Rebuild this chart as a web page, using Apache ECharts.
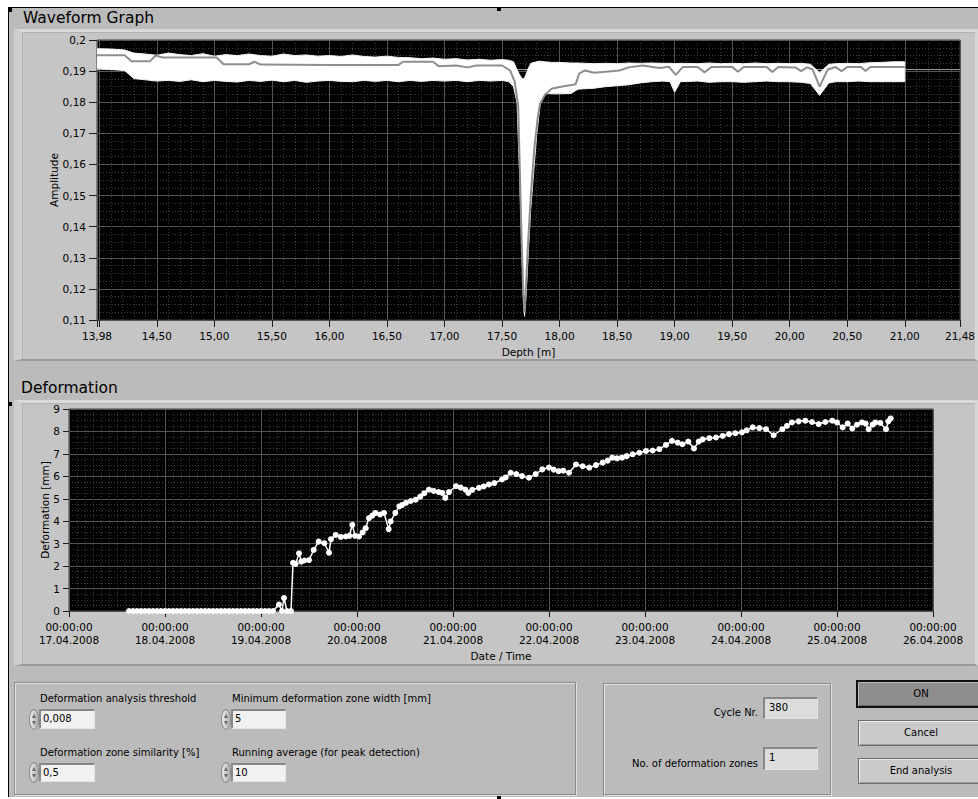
<!DOCTYPE html>
<html>
<head>
<meta charset="utf-8">
<title>Waveform Graph / Deformation</title>
<script src="https://cdn.jsdelivr.net/npm/echarts@6.0.0/dist/echarts.min.js"></script>
<style>
  html, body { margin: 0; padding: 0; background: #fff; }
  body { width: 978px; height: 799px; overflow: hidden; position: relative;
         font-family: "DejaVu Sans", Verdana, sans-serif; color: #000; }
  .abs { position: absolute; }
  #panel { left: 8px; top: 7px; width: 970px; height: 790px; box-sizing: border-box;
           background: #bbbbbb; border-left: 1px solid #000; border-top: 1px solid #000; }
  .handle { width: 4px; height: 4px; background: #000; }
  .frame { left: 14px; width: 964px; box-sizing: border-box; background: #c5c5c5;
           border-top: 3px solid #dadada; border-left: 8px solid #cdcdcd;
           border-right: 3px solid #d6d6d6; border-bottom: 2px solid #9a9a9a;
           box-shadow: inset 1px 1px 0 #b2b2b2; }
  .title { font-size: 15.5px; line-height: 16px; white-space: nowrap; }
  .group { box-sizing: border-box; border: 1px solid #8a8a8a;
           box-shadow: inset 1px 1px 0 #e2e2e2, 1px 1px 0 #e2e2e2; }
  .lbl { font-size: 10px; line-height: 12px; white-space: nowrap; }
  .field { box-sizing: border-box; background: #f1f1f1; font-size: 10px; line-height: 16px;
           padding-left: 2px; border-top: 2px solid #878787; border-left: 2px solid #878787;
           border-right: 1px solid #e4e4e4; border-bottom: 1px solid #e4e4e4; }
  .ind { background: #dcdcdc; line-height: 18px; padding-left: 4px; }
  .spin { width: 10px; height: 21px; box-sizing: border-box; border: 1px solid #8a8a8a;
          border-radius: 5px / 10px; background: linear-gradient(90deg, #ececec, #b0b0b0); }
  .spin::before { content: ""; position: absolute; left: 1.5px; top: 4px;
          border-left: 2.5px solid transparent; border-right: 2.5px solid transparent;
          border-bottom: 4px solid #6a6a6a; }
  .spin::after { content: ""; position: absolute; left: 1.5px; top: 11px;
          border-left: 2.5px solid transparent; border-right: 2.5px solid transparent;
          border-top: 4px solid #6a6a6a; }
  .btn { box-sizing: border-box; font-size: 10px; text-align: center; }
  .btn-on { background: #8e8e8e; border: 2px solid #111;
            box-shadow: inset 1px 1px 0 #b8b8b8, inset -1px -1px 0 #6a6a6a; line-height: 23px; }
  .btn-std { background: #cacaca; border: 1px solid #6c6c6c;
             box-shadow: inset 1px 1px 0 #ededed, inset -1px -1px 0 #9c9c9c; line-height: 23px; }
  #chart { left: 0; top: 0; width: 978px; height: 799px; }
</style>
</head>
<body>
<div id="panel" class="abs"></div>
<div class="abs handle" style="left:8px;top:8px"></div>
<div class="abs handle" style="left:497px;top:7px"></div>
<div class="abs handle" style="left:8px;top:402px"></div>
<div class="abs handle" style="left:497px;top:795px"></div>

<div class="abs title" style="left:23px;top:10px">Waveform Graph</div>
<div class="abs frame" style="top:29px;height:332px"></div>

<div class="abs title" style="left:21px;top:380px">Deformation</div>
<div class="abs frame" style="top:400px;height:266px"></div>

<!-- analysis settings -->
<div class="abs group" style="left:14px;top:682px;width:562px;height:113px"></div>
<div class="abs lbl" style="left:40px;top:693px">Deformation analysis threshold</div>
<div class="abs spin" style="left:29px;top:709px"></div>
<div class="abs field" style="left:39px;top:709px;width:56px;height:20px">0,008</div>
<div class="abs lbl" style="left:232px;top:693px">Minimum deformation zone width [mm]</div>
<div class="abs spin" style="left:221px;top:709px"></div>
<div class="abs field" style="left:231px;top:709px;width:55px;height:20px">5</div>
<div class="abs lbl" style="left:40px;top:747px">Deformation zone similarity [%]</div>
<div class="abs spin" style="left:29px;top:762px"></div>
<div class="abs field" style="left:39px;top:763px;width:56px;height:19px">0,5</div>
<div class="abs lbl" style="left:232px;top:747px">Running average (for peak detection)</div>
<div class="abs spin" style="left:221px;top:762px"></div>
<div class="abs field" style="left:231px;top:763px;width:55px;height:19px">10</div>

<!-- status indicators -->
<div class="abs group" style="left:603px;top:683px;width:228px;height:112px"></div>
<div class="abs lbl" style="left:600px;top:707px;width:158px;text-align:right">Cycle Nr.</div>
<div class="abs field ind" style="left:763px;top:697px;width:55px;height:22px">380</div>
<div class="abs lbl" style="left:600px;top:758px;width:158px;text-align:right">No. of deformation zones</div>
<div class="abs field ind" style="left:763px;top:747px;width:55px;height:23px">1</div>

<!-- buttons -->
<div class="abs btn btn-on" style="left:856px;top:680px;width:130px;height:28px">ON</div>
<div class="abs btn btn-std" style="left:858px;top:720px;width:126px;height:26px">Cancel</div>
<div class="abs btn btn-std" style="left:858px;top:758px;width:126px;height:26px">End analysis</div>

<div id="chart" class="abs"></div>

<script>
// ---------- Waveform Graph: depth axis and amplitude axis ----------
const depthMin = 13.98;
const depthMax = 21.48;
const depthTicks  = [13.98, 14.00, 14.50, 15.00, 15.50, 16.00, 16.50, 17.00, 17.50, 18.00, 18.50, 19.00, 19.50, 20.00, 20.50, 21.00, 21.48];
const depthLabels = [13.98, 14.50, 15.00, 15.50, 16.00, 16.50, 17.00, 17.50, 18.00, 18.50, 19.00, 19.50, 20.00, 20.50, 21.00, 21.48];
const ampMin = 0.11;
const ampMax = 0.2;
const ampTicks = [0.11, 0.12, 0.13, 0.14, 0.15, 0.16, 0.17, 0.18, 0.19, 0.2];

// envelope of all recorded traces (upper / lower amplitude per depth)
const envDepth = [13.98, 14.10, 14.22, 14.30, 14.40, 14.50, 14.60, 14.70, 14.80, 14.90,
                  15.00, 15.10, 15.20, 15.30, 15.40, 15.50, 15.60, 15.70, 15.80, 15.90,
                  16.00, 16.10, 16.20, 16.30, 16.40, 16.50, 16.60, 16.70, 16.80, 16.90,
                  17.00, 17.10, 17.20, 17.30, 17.40, 17.50, 17.56, 17.60, 17.63, 17.65,
                  17.67, 17.685, 17.695, 17.71, 17.73, 17.75, 17.80, 17.83, 17.87, 17.93,
                  18.00, 18.10, 18.16, 18.30, 18.40, 18.50, 18.60, 18.70, 18.80, 18.90,
                  18.96, 19.00, 19.05, 19.20, 19.30, 19.40, 19.50, 19.60, 19.70, 19.80,
                  19.90, 20.00, 20.10, 20.18, 20.26, 20.34, 20.40, 20.50, 20.60, 20.70,
                  20.80, 20.90, 21.00];
const envUpper = [0.1972, 0.1971, 0.1968, 0.1958, 0.1955, 0.1951, 0.1958, 0.1953, 0.1950, 0.1956,
                  0.1948, 0.1953, 0.1950, 0.1955, 0.1950, 0.1948, 0.1955, 0.1950, 0.1952, 0.1948,
                  0.1950, 0.1947, 0.1952, 0.1947, 0.1945, 0.1948, 0.1944, 0.1943, 0.1940, 0.1942,
                  0.1938, 0.1940, 0.1936, 0.1938, 0.1935, 0.1937, 0.1935, 0.1930, 0.1905, 0.1890,
                  0.1878, 0.1875, 0.1878, 0.1890, 0.1910, 0.1925, 0.1930, 0.1932, 0.1930, 0.1928,
                  0.1928, 0.1926, 0.1926, 0.1924, 0.1925, 0.1924, 0.1926, 0.1925, 0.1926, 0.1925,
                  0.1925, 0.1924, 0.1925, 0.1924, 0.1926, 0.1924, 0.1925, 0.1924, 0.1926, 0.1924,
                  0.1925, 0.1924, 0.1925, 0.1922, 0.1895, 0.1922, 0.1924, 0.1925, 0.1924, 0.1927,
                  0.1928, 0.1930, 0.1930];
const envLower = [0.1908, 0.1905, 0.1902, 0.1876, 0.1872, 0.1868, 0.1870, 0.1867, 0.1872, 0.1866,
                  0.1870, 0.1867, 0.1865, 0.1870, 0.1867, 0.1871, 0.1866, 0.1870, 0.1864, 0.1868,
                  0.1870, 0.1867, 0.1866, 0.1870, 0.1867, 0.1870, 0.1866, 0.1870, 0.1867, 0.1870,
                  0.1868, 0.1870, 0.1866, 0.1870, 0.1868, 0.1870, 0.1866, 0.1850, 0.1800, 0.1600,
                  0.1360, 0.1180, 0.1112, 0.1186, 0.1330, 0.1460, 0.1690, 0.1790, 0.1830, 0.1827,
                  0.1827, 0.1828, 0.1842, 0.1845, 0.1850, 0.1853, 0.1856, 0.1862, 0.1866, 0.1868,
                  0.1866, 0.1832, 0.1866, 0.1868, 0.1864, 0.1866, 0.1866, 0.1864, 0.1866, 0.1868,
                  0.1866, 0.1866, 0.1864, 0.1860, 0.1822, 0.1862, 0.1866, 0.1866, 0.1868, 0.1866,
                  0.1866, 0.1866, 0.1866];

// current (latest) trace
const curDepth = [13.98, 14.22, 14.28, 14.44, 14.49, 14.55, 15.02, 15.08, 15.30, 15.35,
                  15.40, 16.00, 16.60, 16.64, 16.90, 16.95, 17.10, 17.20, 17.28, 17.50,
                  17.57, 17.61, 17.64, 17.655, 17.67, 17.685, 17.695, 17.705, 17.725, 17.75,
                  17.78, 17.81, 17.83, 17.87, 17.93, 18.00, 18.14, 18.17, 18.22, 18.30,
                  18.40, 18.52, 18.60, 18.72, 18.87, 18.95, 19.01, 19.07, 19.20, 19.26,
                  19.32, 19.50, 19.55, 19.60, 19.80, 19.85, 19.90, 20.05, 20.10, 20.15,
                  20.20, 20.26, 20.33, 20.40, 20.45, 20.50, 20.62, 20.66, 20.70, 21.00];
const curAmp   = [0.1951, 0.1951, 0.1932, 0.1932, 0.1950, 0.1944, 0.1944, 0.1922, 0.1922, 0.1930,
                  0.1921, 0.1920, 0.1920, 0.1930, 0.1930, 0.1916, 0.1918, 0.1912, 0.1918, 0.1918,
                  0.1902, 0.1866, 0.1790, 0.1580, 0.1360, 0.1180, 0.1125, 0.1185, 0.1340, 0.1500,
                  0.1650, 0.1750, 0.1795, 0.1822, 0.1843, 0.1849, 0.1858, 0.1892, 0.1902, 0.1895,
                  0.1898, 0.1902, 0.1912, 0.1918, 0.1910, 0.1914, 0.1888, 0.1913, 0.1913, 0.1896,
                  0.1913, 0.1914, 0.1898, 0.1913, 0.1913, 0.1897, 0.1913, 0.1912, 0.1900, 0.1912,
                  0.1905, 0.1850, 0.1905, 0.1913, 0.1900, 0.1913, 0.1913, 0.1900, 0.1913, 0.1913];

// reference trace (full depth range)
const refDepth = [13.98, 21.48];
const refAmp   = [0.1905, 0.1905];

// ---------- Deformation over time ----------
const dateMin = '2008-04-17 00:00';
const dateMax = '2008-04-26 00:00';
const defMax = 9;
const defTime = [
  '2008-04-17 15:00','2008-04-17 16:00','2008-04-17 17:00','2008-04-17 18:00','2008-04-17 19:00',
  '2008-04-17 20:00','2008-04-17 21:00','2008-04-17 22:00','2008-04-17 23:00',
  '2008-04-18 00:00','2008-04-18 01:00','2008-04-18 02:00','2008-04-18 03:00','2008-04-18 04:00',
  '2008-04-18 05:00','2008-04-18 06:00','2008-04-18 07:00','2008-04-18 08:00','2008-04-18 09:00',
  '2008-04-18 10:00','2008-04-18 11:00','2008-04-18 12:00','2008-04-18 13:00','2008-04-18 14:00',
  '2008-04-18 15:00','2008-04-18 16:00','2008-04-18 17:00','2008-04-18 18:00','2008-04-18 19:00',
  '2008-04-18 20:00','2008-04-18 21:00','2008-04-18 22:00','2008-04-18 23:00',
  '2008-04-19 00:00','2008-04-19 01:00','2008-04-19 02:00','2008-04-19 03:00','2008-04-19 04:30',
  '2008-04-19 05:15','2008-04-19 05:45','2008-04-19 06:30','2008-04-19 07:30','2008-04-19 08:00',
  '2008-04-19 08:40','2008-04-19 09:30','2008-04-19 10:05','2008-04-19 10:50','2008-04-19 12:00',
  '2008-04-19 13:10','2008-04-19 14:25','2008-04-19 15:50','2008-04-19 17:00','2008-04-19 17:30',
  '2008-04-19 18:40','2008-04-19 19:55','2008-04-19 21:10','2008-04-19 22:05','2008-04-19 22:50',
  '2008-04-19 23:30',
  '2008-04-20 00:30','2008-04-20 01:25','2008-04-20 02:10','2008-04-20 03:00','2008-04-20 03:50',
  '2008-04-20 04:35','2008-04-20 05:45','2008-04-20 06:45','2008-04-20 07:55','2008-04-20 08:25',
  '2008-04-20 09:35','2008-04-20 10:35','2008-04-20 11:15','2008-04-20 12:15','2008-04-20 13:25',
  '2008-04-20 14:40','2008-04-20 15:50','2008-04-20 16:50','2008-04-20 18:00','2008-04-20 19:10',
  '2008-04-20 20:25','2008-04-20 21:20','2008-04-20 22:05','2008-04-20 23:00',
  '2008-04-21 00:45','2008-04-21 01:55','2008-04-21 03:05','2008-04-21 03:50','2008-04-21 04:50',
  '2008-04-21 06:30','2008-04-21 07:40','2008-04-21 09:00','2008-04-21 10:20','2008-04-21 12:15',
  '2008-04-21 13:10','2008-04-21 14:25','2008-04-21 15:50','2008-04-21 17:15','2008-04-21 19:00',
  '2008-04-21 20:40','2008-04-21 22:20',
  '2008-04-22 00:00','2008-04-22 01:10','2008-04-22 02:25','2008-04-22 03:35','2008-04-22 05:00',
  '2008-04-22 06:45','2008-04-22 08:25','2008-04-22 10:05','2008-04-22 11:45','2008-04-22 13:25',
  '2008-04-22 14:40','2008-04-22 15:50','2008-04-22 17:00','2008-04-22 18:15','2008-04-22 19:25',
  '2008-04-22 20:55','2008-04-22 22:35',
  '2008-04-23 00:15','2008-04-23 01:55','2008-04-23 03:35','2008-04-23 05:15','2008-04-23 06:45',
  '2008-04-23 08:10','2008-04-23 09:20','2008-04-23 10:50','2008-04-23 12:15','2008-04-23 13:25',
  '2008-04-23 14:25','2008-04-23 16:05','2008-04-23 17:45','2008-04-23 19:25','2008-04-23 21:00',
  '2008-04-23 22:35',
  '2008-04-24 00:15','2008-04-24 01:25','2008-04-24 02:55','2008-04-24 04:35','2008-04-24 06:15',
  '2008-04-24 08:10','2008-04-24 10:20','2008-04-24 11:30','2008-04-24 12:45','2008-04-24 14:25',
  '2008-04-24 16:05','2008-04-24 17:45','2008-04-24 19:25','2008-04-24 21:05','2008-04-24 22:50',
  '2008-04-25 00:00','2008-04-25 01:25','2008-04-25 02:40','2008-04-25 03:50','2008-04-25 05:00',
  '2008-04-25 06:15','2008-04-25 07:10','2008-04-25 07:55','2008-04-25 08:55','2008-04-25 09:35',
  '2008-04-25 10:50','2008-04-25 12:15','2008-04-25 12:50','2008-04-25 13:25'
];
const defMm = [
  0, 0, 0, 0, 0,
  0, 0, 0, 0,
  0, 0, 0, 0, 0,
  0, 0, 0, 0, 0,
  0, 0, 0, 0, 0,
  0, 0, 0, 0, 0,
  0, 0, 0, 0,
  0, 0, 0, 0, 0.29,
  0, 0.58, 0, 0, 2.15,
  2.10, 2.57, 2.20, 2.25, 2.27,
  2.72, 3.09, 3.02, 2.60, 3.20,
  3.39, 3.30, 3.32, 3.35, 3.84,
  3.35,
  3.32, 3.50, 3.69, 4.14, 4.25,
  4.37, 4.30, 4.37, 3.65, 3.99,
  4.37, 4.66, 4.72, 4.82, 4.90,
  4.96, 5.10, 5.25, 5.41, 5.35,
  5.30, 5.26, 5.04, 5.30,
  5.56, 5.50, 5.41, 5.26, 5.40,
  5.49, 5.55, 5.64, 5.70, 5.86,
  5.95, 6.16, 6.10, 6.01, 5.94,
  6.10, 6.31,
  6.39, 6.30, 6.23, 6.25, 6.16,
  6.53, 6.45, 6.39, 6.50, 6.61,
  6.70, 6.83, 6.80, 6.83, 6.90,
  6.98, 7.05,
  7.13, 7.15, 7.21, 7.40, 7.58,
  7.50, 7.43, 7.55, 7.24, 7.55,
  7.65, 7.70, 7.73, 7.80, 7.88,
  7.92,
  7.96, 8.05, 8.18, 8.15, 8.10,
  7.83, 8.10, 8.25, 8.40, 8.45,
  8.48, 8.42, 8.33, 8.42, 8.48,
  8.40, 8.18, 8.35, 8.13, 8.30,
  8.40, 8.35, 8.10, 8.30, 8.40,
  8.38, 8.10, 8.45, 8.58
];

// ---------- helpers ----------
const DAY = 86400000;
function parseStamp(s) {
  return Date.UTC(+s.slice(0, 4), +s.slice(5, 7) - 1, +s.slice(8, 10), +s.slice(11, 13), +s.slice(14, 16));
}
function pad(n) { return (n < 10 ? '0' : '') + n; }
function dateLabel(v) {
  const d = new Date(v);
  return pad(d.getUTCHours()) + ':' + pad(d.getUTCMinutes()) + ':' + pad(d.getUTCSeconds()) + '\n' +
         pad(d.getUTCDate()) + '.' + pad(d.getUTCMonth() + 1) + '.' + d.getUTCFullYear();
}
function comma(s) { return s.replace('.', ','); }

// fine (dotted) grid positions between the labelled divisions
const depthFine = [];
for (let k = 141; k <= 214; k++) if (k % 5 !== 0) depthFine.push(k / 10);
const ampFine = [];
for (let k = 45; k < 80; k++) if (k % 4 !== 0) ampFine.push(k * 0.0025);

const txt = { fontFamily: 'DejaVu Sans', fontSize: 10.5, color: '#000' };
const majorGrid = { show: true, lineStyle: { color: '#555555', width: 1, type: 'solid' } };
const fineGrid  = { show: true, lineStyle: { color: '#3d3d3d', width: 1, type: [1, 2] } };
const tickStyle = { color: '#1e1e1e', width: 1 };

// white band spanning all traces: polygon between the upper and lower envelope
function renderEnvelope(params, api) {
  const pts = [];
  for (let i = 0; i < envDepth.length; i++) pts.push(api.coord([envDepth[i], envUpper[i]]));
  for (let i = envDepth.length - 1; i >= 0; i--) pts.push(api.coord([envDepth[i], envLower[i]]));
  return {
    type: 'polygon',
    shape: { points: pts },
    style: { fill: '#ffffff', stroke: '#f4f4f4', lineWidth: 1 }
  };
}

const chart = echarts.init(document.getElementById('chart'), null, { renderer: 'svg' });

chart.setOption({
  animation: false,
  backgroundColor: 'transparent',
  textStyle: { fontFamily: 'DejaVu Sans' },
  grid: [
    { left: 97, top: 40, width: 863, height: 280, show: true, backgroundColor: '#000',
      borderColor: '#3a3a3a', borderWidth: 1, containLabel: false, outerBoundsMode: 'none' },
    { left: 69, top: 409, width: 864, height: 202, show: true, backgroundColor: '#000',
      borderColor: '#3a3a3a', borderWidth: 1, containLabel: false, outerBoundsMode: 'none' }
  ],
  xAxis: [
    { gridIndex: 0, type: 'value', position: 'bottom', min: depthMin, max: depthMax,
      name: 'Depth [m]', nameLocation: 'middle', nameGap: 26, nameTextStyle: txt, nameMoveOverlap: false,
      axisLine: { show: false },
      axisTick: { show: true, length: 7, customValues: depthTicks, lineStyle: tickStyle },
      axisLabel: Object.assign({ margin: 10, customValues: depthLabels,
        formatter: v => comma(v.toFixed(2)) }, txt),
      splitLine: majorGrid },
    { gridIndex: 0, type: 'value', position: 'top', min: depthMin, max: depthMax,
      axisLine: { show: false }, axisTick: { show: false, customValues: depthFine },
      axisLabel: { show: false }, splitLine: fineGrid },
    { gridIndex: 1, type: 'value', position: 'bottom', min: parseStamp(dateMin), max: parseStamp(dateMax),
      interval: DAY,
      name: 'Date / Time', nameLocation: 'middle', nameGap: 39, nameTextStyle: txt, nameMoveOverlap: false,
      axisLine: { show: false },
      axisTick: { show: true, length: 6, lineStyle: tickStyle },
      axisLabel: Object.assign({ margin: 9, lineHeight: 13, formatter: dateLabel,
        showMinLabel: true, showMaxLabel: true }, txt),
      minorTick: { show: false, splitNumber: 12 },
      splitLine: majorGrid, minorSplitLine: fineGrid }
  ],
  yAxis: [
    { gridIndex: 0, type: 'value', position: 'left', min: ampMin, max: ampMax,
      name: 'Amplitude', nameLocation: 'middle', nameGap: 38, nameTextStyle: txt, nameMoveOverlap: false,
      axisLine: { show: false },
      axisTick: { show: true, length: 8, customValues: ampTicks, lineStyle: tickStyle },
      axisLabel: Object.assign({ margin: 11, customValues: ampTicks,
        formatter: v => comma(String(Math.round(v * 1000) / 1000)) }, txt),
      splitLine: majorGrid },
    { gridIndex: 0, type: 'value', position: 'right', min: ampMin, max: ampMax,
      axisLine: { show: false }, axisTick: { show: false, customValues: ampFine },
      axisLabel: { show: false }, splitLine: fineGrid },
    { gridIndex: 1, type: 'value', position: 'left', min: 0, max: defMax, interval: 1,
      name: 'Deformation [mm]', nameLocation: 'middle', nameGap: 19, nameTextStyle: txt, nameMoveOverlap: false,
      axisLine: { show: false },
      axisTick: { show: true, length: 6, lineStyle: tickStyle },
      axisLabel: Object.assign({ margin: 9 }, txt),
      minorTick: { show: false, splitNumber: 4 },
      splitLine: majorGrid, minorSplitLine: fineGrid }
  ],
  series: [
    { type: 'line', name: 'reference', xAxisIndex: 0, yAxisIndex: 0, silent: true, z: 2,
      data: refDepth.map((d, i) => [d, refAmp[i]]),
      symbol: 'none', lineStyle: { color: '#a0a0a0', width: 1 } },
    { type: 'custom', name: 'trace envelope', xAxisIndex: 0, yAxisIndex: 0, silent: true, z: 3,
      clip: true, data: [[envDepth[0], envUpper[0]]], renderItem: renderEnvelope },
    { type: 'line', name: 'current trace', xAxisIndex: 0, yAxisIndex: 0, silent: true, z: 4,
      data: curDepth.map((d, i) => [d, curAmp[i]]),
      symbol: 'none', lineStyle: { color: '#8e8e8e', width: 2 } },
    { type: 'line', name: 'deformation', xAxisIndex: 2, yAxisIndex: 2, silent: true, z: 4,
      data: defTime.map((t, i) => [parseStamp(t), defMm[i]]),
      symbol: 'circle', symbolSize: 6, showAllSymbol: true,
      itemStyle: { color: '#fff', borderWidth: 0 },
      lineStyle: { color: '#fff', width: 1.5 } }
  ]
});
</script>
</body>
</html>
